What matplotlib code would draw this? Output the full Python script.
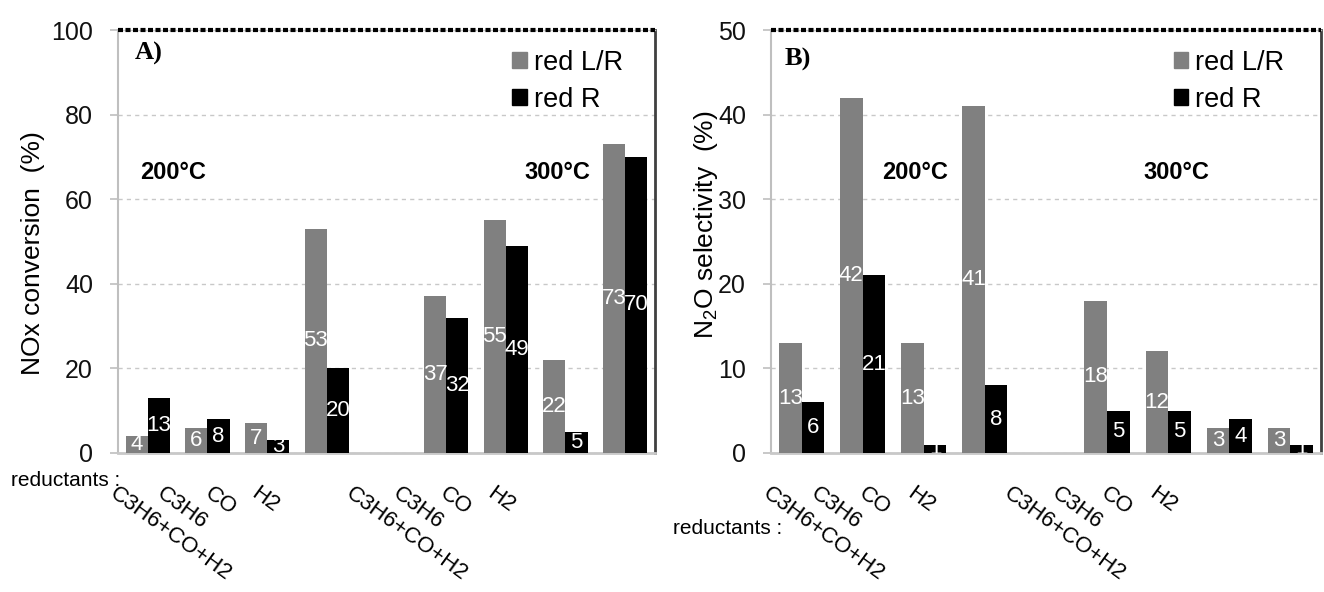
import numpy as np
import matplotlib
matplotlib.use("Agg")
from matplotlib import pyplot as plt
from matplotlib.patches import Patch

plt.rcParams["font.family"] = ["Liberation Sans", "DejaVu Sans"]
plt.rcParams["mathtext.fontset"] = "custom"
plt.rcParams["mathtext.rm"] = "Liberation Sans"

# data
reductants = ["C3H6+CO+H2", "C3H6", "CO", "H2"]
temperatures = ["200°C", "300°C"]
series_names = ["red L/R", "red R"]
series_colors = ["#808080", "#000000"]

# A) NOx conversion (%) - 200°C then 300°C
nox_lr = [4, 6, 7, 53, 37, 55, 22, 73]
nox_r = [13, 8, 3, 20, 32, 49, 5, 70]

# B) N2O selectivity (%)
n2o_lr = [13, 42, 13, 41, 18, 12, 3, 3]
n2o_r = [6, 21, 1, 8, 5, 5, 4, 1]

# slot positions, one empty slot between the two temperatures
slots = np.array([0, 1, 2, 3, 5, 6, 7, 8])
cat_labels = reductants * 2
bar_w = 0.37


def draw_panel(ax, lr, r, ymax, ystep, ylabel, tag, temp_pos, lab_x, red_xy, red_size, leg_xy):
    for vals, off, col in [(lr, -bar_w / 2, series_colors[0]), (r, bar_w / 2, series_colors[1])]:
        bars = ax.bar(slots + off, vals, width=bar_w, color=col, zorder=3)
        for b, v in zip(bars, vals):
            ax.text(b.get_x() + b.get_width() / 2, v / 2, f"{v:.0f}", color="white",
                    ha="center", va="center", fontsize=16, zorder=4, clip_on=True)

    ax.set_xlim(-0.5, 8.5)
    ax.set_ylim(0, ymax)
    ax.set_yticks(np.arange(0, ymax + 1, ystep))
    ax.set_xticks([])
    ax.tick_params(axis="y", labelsize=18, length=6, width=1.2, color="#bfbfbf",
                   pad=12, labelcolor="#111111")
    ax.yaxis.grid(True, linestyle=(0, (3, 3)), color="#c8c8c8", linewidth=1, zorder=0)
    ax.set_axisbelow(True)

    ax.spines["left"].set_color("#bfbfbf")
    ax.spines["left"].set_linewidth(1.5)
    ax.spines["bottom"].set_color("#c8c8c8")
    ax.spines["bottom"].set_linewidth(2)
    ax.spines["right"].set_color("#404040")
    ax.spines["right"].set_linewidth(2)
    ax.spines["top"].set_color("#c8c8c8")
    ax.spines["top"].set_linewidth(1)
    # dotted black rule on top of the frame
    ax.axhline(ymax, color="black", linewidth=3, linestyle=(0, (1.2, 0.6)),
               zorder=5, clip_on=False)

    ax.set_ylabel(ylabel, fontsize=19)

    ax.text(tag[1], tag[2], tag[0], transform=ax.transAxes, fontsize=19,
            family="Liberation Serif", fontweight="bold", va="center", ha="left")
    for t, (tx, ty) in zip(temperatures, temp_pos):
        ax.text(tx, ty, t, fontsize=17, fontweight="bold", ha="left", va="center")

    # category labels, rotated
    for s, lab in zip(slots, cat_labels):
        ax.text(s * 0.79 + lab_x, -0.07, lab, transform=ax.get_xaxis_transform(),
                rotation=-36, rotation_mode="anchor", ha="left", va="top",
                fontsize=16, clip_on=False)
    ax.text(red_xy[0], red_xy[1], "reductants :", transform=ax.transAxes,
            fontsize=red_size, ha="left", va="center", clip_on=False)

    handles = [Patch(color=c) for c in series_colors]
    ax.legend(handles, series_names, loc="upper right", bbox_to_anchor=leg_xy,
              frameon=False, fontsize=19.5, handlelength=0.55, handleheight=0.55,
              handletextpad=0.25, labelspacing=0.4, borderpad=0)


fig = plt.figure(figsize=(13.24, 5.92), dpi=100)
ax1 = fig.add_axes([0.0891, 0.2348, 0.4056, 0.7145])
ax2 = fig.add_axes([0.5823, 0.2348, 0.4154, 0.7145])

draw_panel(ax1, nox_lr, nox_r, 100, 20, "NOx conversion  (%)", ("A)", 0.032, 0.945),
           [(-0.13, 66.4), (6.31, 66.4)], -0.49, (-0.2, -0.066), 15, (0.965, 0.985))
draw_panel(ax2, n2o_lr, n2o_r, 50, 10, r"N$_\mathregular{2}$O selectivity  (%)",
           ("B)", 0.025, 0.93), [(1.32, 33.2), (5.59, 33.2)], -0.5, (-0.178, -0.178), 15,
           (0.958, 0.985))

ax1.yaxis.set_label_coords(-0.136, 0.473)
ax2.yaxis.set_label_coords(-0.093, 0.54)

fig.savefig("out.png", dpi=100)
